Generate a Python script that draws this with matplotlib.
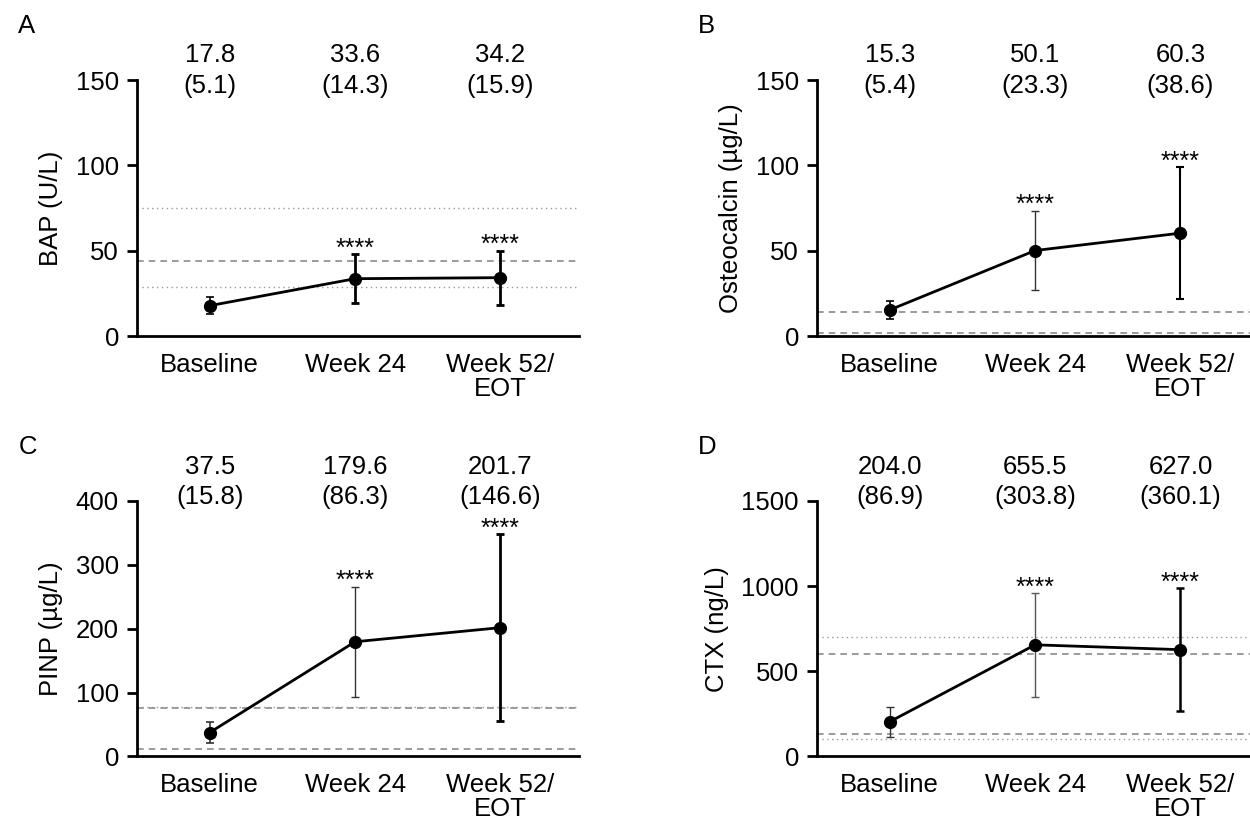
import matplotlib
matplotlib.use("Agg")
import matplotlib.pyplot as plt
import matplotlib.transforms as mtrans

plt.rcParams['font.family'] = ['Liberation Sans', 'DejaVu Sans']

categories = ["Baseline", "Week 24", "Week 52/\nEOT"]

bap_mean = [17.8, 33.6, 34.2]
bap_sd = [5.1, 14.3, 15.9]
ost_mean = [15.3, 50.1, 60.3]
ost_sd = [5.4, 23.3, 38.6]
pinp_mean = [37.5, 179.6, 201.7]
pinp_sd = [15.8, 86.3, 146.6]
ctx_mean = [204.0, 655.5, 627.0]
ctx_sd = [86.9, 303.8, 360.1]

bap_dashed = [44]
bap_dotted = [29, 75]
ost_dashed = [2, 14]
ost_dotted = []
pinp_dashed = [12, 76]
pinp_dotted = [78]
ctx_dashed = [130, 600]
ctx_dotted = [100, 700]

significance = ["", "****", "****"]

panels = [
    dict(letter="A", ylabel="BAP (U/L)", mean=bap_mean, sd=bap_sd, ymax=150,
         yticks=[0, 50, 100, 150], dashed=bap_dashed, dotted=bap_dotted,
         pos=[0.1096, 0.5907, 0.3536, 0.3118], ebw=[1.2, 2.0, 2.0],
         ebc=["black", "black", "black"], ty=(1.097, 0.978)),
    dict(letter="B", ylabel="Osteocalcin (µg/L)", mean=ost_mean, sd=ost_sd, ymax=150,
         yticks=[0, 50, 100, 150], dashed=ost_dashed, dotted=ost_dotted,
         pos=[0.6536, 0.5907, 0.3536, 0.3118], ebw=[1.2, 1.0, 1.5],
         ebc=["black", "#333333", "black"], ty=(1.097, 0.978)),
    dict(letter="C", ylabel="PINP (µg/L)", mean=pinp_mean, sd=pinp_sd, ymax=400,
         yticks=[0, 100, 200, 300, 400], dashed=pinp_dashed, dotted=pinp_dotted,
         pos=[0.1096, 0.0786, 0.3536, 0.3112], ebw=[1.2, 1.0, 2.0],
         ebc=["#333333", "#333333", "black"], ty=(1.133, 1.015)),
    dict(letter="D", ylabel="CTX (ng/L)", mean=ctx_mean, sd=ctx_sd, ymax=1500,
         yticks=[0, 500, 1000, 1500], dashed=ctx_dashed, dotted=ctx_dotted,
         pos=[0.6536, 0.0786, 0.3536, 0.3112], ebw=[1.0, 1.0, 1.8],
         ebc=["#333333", "#555555", "black"], ty=(1.133, 1.015)),
]

fig = plt.figure(figsize=(12.5, 8.21), dpi=100)

FS = 18.5
for p in panels:
    ax = fig.add_axes(p["pos"])
    x = list(range(len(categories)))
    for y in p["dashed"]:
        ax.axhline(y, color="#8a8a8a", lw=1.2, ls=(0, (4, 3)), zorder=1)
    for y in p["dotted"]:
        ax.axhline(y, color="#9a9a9a", lw=1.0, ls=(0, (1, 2.5)), zorder=1)
    ax.plot(x, p["mean"], color="black", lw=2.0, marker="o", ms=8.5, zorder=3)
    for i in x:
        ax.errorbar(x[i], p["mean"][i], yerr=p["sd"][i], fmt="none",
                    ecolor=p["ebc"][i], elinewidth=p["ebw"][i], capsize=3,
                    capthick=p["ebw"][i], zorder=2)
        if significance[i]:
            ax.annotate(significance[i], (x[i], p["mean"][i] + p["sd"][i]),
                        xytext=(0, -1), textcoords="offset points",
                        ha="center", va="baseline", fontsize=18)
    trans = mtrans.blended_transform_factory(ax.transData, ax.transAxes)
    for i in x:
        ax.text(x[i], p["ty"][0], f"{p['mean'][i]:.1f}", transform=trans,
                ha="center", va="center", fontsize=FS)
        ax.text(x[i], p["ty"][1], f"({p['sd'][i]:.1f})", transform=trans,
                ha="center", va="center", fontsize=FS)
    ax.set_xlim(-0.5, 2.54)
    ax.set_ylim(0, p["ymax"])
    ax.set_yticks(p["yticks"])
    ax.set_xticks(x)
    ax.set_xticklabels(categories, fontsize=FS, linespacing=1.0)
    ax.tick_params(axis="x", length=0, pad=12)
    ax.tick_params(axis="y", labelsize=FS, length=7, width=2, direction="out", pad=6)
    ax.set_ylabel(p["ylabel"], fontsize=FS, labelpad=9)
    for s in ["top", "right"]:
        ax.spines[s].set_visible(False)
    for s in ["left", "bottom"]:
        ax.spines[s].set_linewidth(2)
    ax.patch.set_alpha(0)
    fx = p["pos"][0] - 0.095
    fy = p["pos"][1] + p["pos"][3] + 0.066
    fig.text(fx, fy, p["letter"], fontsize=FS, ha="left", va="center")

fig.savefig("out.png", dpi=100)
